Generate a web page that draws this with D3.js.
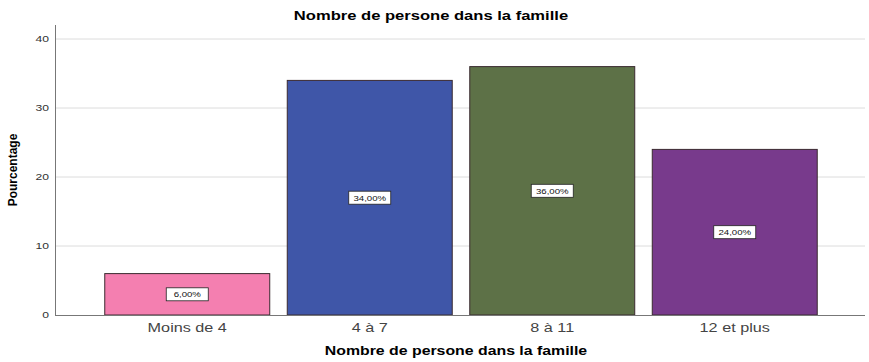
<!DOCTYPE html>
<html>
<head>
<meta charset="utf-8">
<script src="https://cdn.jsdelivr.net/npm/d3@7"></script>
<style>
body { margin: 0; background: #fff; }
text { font-family: "Liberation Sans", Arial, sans-serif; }
</style>
</head>
<body>
<div class="chart"></div>
<script>
var categories = ["Moins de 4", "4 à 7", "8 à 11", "12 et plus"];
var values = [6, 34, 36, 24];
var colors = ["#f47fb0", "#3f56a8", "#5d7147", "#783a8c"];
var yTicks = [0, 10, 20, 30, 40];

var width = 869, height = 362;

// the source picture is stretched sideways, so stretch the text to match
function stretch(sel, k) {
    sel.each(function () {
        var w = this.getComputedTextLength();
        d3.select(this).attr("textLength", w * k).attr("lengthAdjust", "spacingAndGlyphs");
    });
}

var svg = d3.select(".chart").append("svg")
    .attr("width", width)
    .attr("height", height);

var x = d3.scaleBand()
    .domain(categories)
    .range([96, 826])
    .paddingInner(0.096)
    .paddingOuter(0.048);

var y = d3.scaleLinear()
    .domain([0, 40])
    .range([315, 39]);

// gridlines
svg.append("g")
    .selectAll("line")
    .data(yTicks.filter(d => d > 0))
    .enter().append("line")
    .attr("x1", 56)
    .attr("x2", 865)
    .attr("y1", d => y(d))
    .attr("y2", d => y(d))
    .attr("stroke", "#dcdcdc")
    .attr("stroke-width", 1);

// y axis
svg.append("line")
    .attr("x1", 55.5).attr("x2", 55.5)
    .attr("y1", 25).attr("y2", 315)
    .attr("stroke", "#777");

svg.append("g")
    .selectAll("text")
    .data(yTicks)
    .enter().append("text")
    .attr("x", 49)
    .attr("y", d => y(d) + 3)
    .attr("text-anchor", "end")
    .style("font-size", "9px")
    .style("fill", "#333")
    .text(d => d)
    .call(stretch, 1.35);

// bars
svg.append("g")
    .selectAll("rect")
    .data(values)
    .enter().append("rect")
    .attr("x", (d, i) => x(categories[i]))
    .attr("y", d => y(d))
    .attr("width", x.bandwidth())
    .attr("height", d => y(0) - y(d))
    .attr("fill", (d, i) => colors[i])
    .attr("stroke", "#3a2a30")
    .attr("stroke-width", 1);

// x axis line
svg.append("line")
    .attr("x1", 55).attr("x2", 865)
    .attr("y1", 315.5).attr("y2", 315.5)
    .attr("stroke", "#777");

// value labels
var lab = svg.append("g")
    .selectAll("g")
    .data(values)
    .enter().append("g")
    .attr("transform", (d, i) => `translate(${x(categories[i]) + x.bandwidth() / 2},${(y(d) + y(0)) / 2})`);

lab.append("rect")
    .attr("x", -21).attr("y", -6.5)
    .attr("width", 42).attr("height", 13)
    .attr("fill", "#fff")
    .attr("stroke", "#222")
    .attr("stroke-width", 0.8);

lab.append("text")
    .attr("text-anchor", "middle")
    .attr("dy", 3)
    .style("font-size", "8px")
    .style("fill", "#111")
    .text(d => d.toFixed(2).replace(".", ",") + "%")
    .call(stretch, 1.2);

// x tick labels
svg.append("g")
    .selectAll("text")
    .data(categories)
    .enter().append("text")
    .attr("x", d => x(d) + x.bandwidth() / 2)
    .attr("y", 332)
    .attr("text-anchor", "middle")
    .style("font-size", "12px")
    .style("fill", "#444")
    .text(d => d)
    .call(stretch, 1.35);

// titles
svg.append("text")
    .attr("x", 431).attr("y", 20)
    .attr("text-anchor", "middle")
    .style("font-size", "12px")
    .style("font-weight", "bold")
    .text("Nombre de persone dans la famille")
    .call(stretch, 1.38);

svg.append("text")
    .attr("x", 456).attr("y", 355)
    .attr("text-anchor", "middle")
    .style("font-size", "12px")
    .style("font-weight", "bold")
    .text("Nombre de persone dans la famille")
    .call(stretch, 1.32);

svg.append("text")
    .attr("transform", "translate(17,170) rotate(-90)")
    .attr("text-anchor", "middle")
    .style("font-size", "12px")
    .style("font-weight", "bold")
    .text("Pourcentage");
</script>
</body>
</html>
